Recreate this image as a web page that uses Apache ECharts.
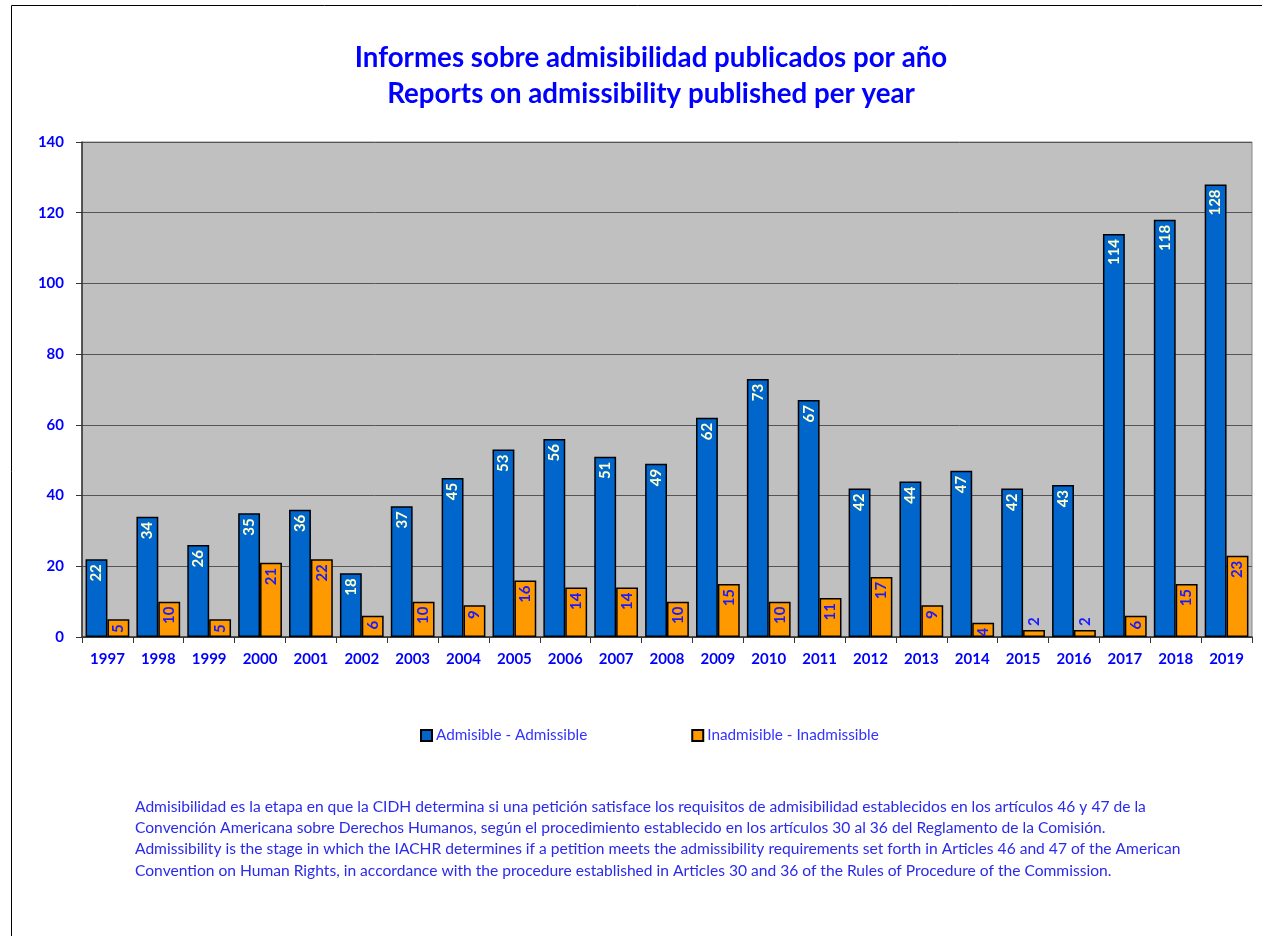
<!DOCTYPE html>
<html>
<head>
<meta charset="utf-8">
<script src="https://cdn.jsdelivr.net/npm/echarts@6/dist/echarts.min.js"></script>
<style>
  html, body { margin: 0; padding: 0; background: #fff; }
  #chart { width: 1262px; height: 936px; }
</style>
</head>
<body>
<div id="chart"></div>
<script>
var years = ['1997', '1998', '1999', '2000', '2001', '2002', '2003', '2004', '2005', '2006', '2007', '2008',
    '2009', '2010', '2011', '2012', '2013', '2014', '2015', '2016', '2017', '2018', '2019'];
var admisible = [22, 34, 26, 35, 36, 18, 37, 45, 53, 56, 51, 49, 62, 73, 67, 42, 44, 47, 42, 43, 114, 118, 128];
var inadmisible = [5, 10, 5, 21, 22, 6, 10, 9, 16, 14, 14, 10, 15, 10, 11, 17, 9, 4, 2, 2, 6, 15, 23];
var yTicks = [0, 20, 40, 60, 80, 100, 120, 140];

var font = 'Lato, "Open Sans", sans-serif';
var blue = '#0000ff';

var notes = [
    'Admisibilidad es la etapa en que la CIDH determina si una petición satisface los requisitos de admisibilidad establecidos en los artículos 46 y 47 de la',
    'Convención Americana sobre Derechos Humanos, según el procedimiento establecido en los artículos 30 al 36 del Reglamento de la Comisión.',
    'Admissibility is the stage in which the IACHR determines if a petition meets the admissibility requirements set forth in Articles 46 and 47 of the American',
    'Convention on Human Rights, in accordance with the procedure established in Articles 30 and 36 of the Rules of Procedure of the Commission.'
];

// etiqueta vertical dentro del extremo superior; fuera si no cabe
function barData(values, color) {
    return values.map(function (v) {
        var small = v <= 2;
        return {
            value: v,
            label: {
                show: true,
                position: small ? 'top' : 'insideTop',
                rotate: 90,
                align: small ? 'left' : 'right',
                verticalAlign: 'middle',
                distance: small ? 4 : 5,
                color: color,
                fontFamily: font,
                fontWeight: 'bold',
                fontSize: 15
            }
        };
    });
}

var chart = echarts.init(document.getElementById('chart'));

var option = {
    backgroundColor: '#ffffff',
    animation: false,
    title: {
        text: 'Informes sobre admisibilidad publicados por año\nReports on admissibility published per year',
        left: 646,
        textAlign: 'center',
        top: 35,
        textStyle: {
            color: blue,
            fontFamily: font,
            fontWeight: 'bold',
            fontSize: 27.7,
            lineHeight: 36
        }
    },
    legend: {
        top: 728,
        left: 420,
        padding: 0,
        itemGap: 104,
        itemWidth: 11,
        itemHeight: 11,
        icon: 'rect',
        textStyle: { color: '#3333ff', fontFamily: font, fontSize: 15.3, padding: [0, 0, 0, -1] },
        data: ['Admisible - Admissible', 'Inadmisible - Inadmissible']
    },
    grid: {
        left: 82,
        right: 10,
        top: 142,
        bottom: 299,
        show: true,
        backgroundColor: '#c0c0c0',
        borderColor: '#888888',
        borderWidth: 1
    },
    xAxis: {
        type: 'category',
        data: years,
        axisLine: { lineStyle: { color: '#333333', width: 1.5 } },
        axisTick: { show: true, alignWithLabel: false, length: 6, lineStyle: { color: '#333333' } },
        axisLabel: { color: blue, fontFamily: font, fontWeight: 'bold', fontSize: 15, margin: 15 }
    },
    yAxis: {
        type: 'value',
        min: 0,
        max: 140,
        interval: 20,
        axisLine: { show: true, lineStyle: { color: '#333333', width: 1.5 } },
        axisTick: { show: true, length: 6, lineStyle: { color: '#333333' } },
        axisLabel: {
            color: blue, fontFamily: font, fontWeight: 'bold', fontSize: 15, margin: 18,
            formatter: function (v) { return yTicks.indexOf(v) >= 0 ? String(v) : ''; }
        },
        splitLine: { lineStyle: { color: '#555555', width: 1 } }
    },
    series: [
        {
            name: 'Admisible - Admissible',
            type: 'bar',
            barGap: '0%',
            barCategoryGap: '14%',
            itemStyle: { color: '#0066cc', borderColor: '#000000', borderWidth: 1.5 },
            data: barData(admisible, '#ffffcc')
        },
        {
            name: 'Inadmisible - Inadmissible',
            type: 'bar',
            itemStyle: { color: '#ff9900', borderColor: '#000000', borderWidth: 1.5 },
            data: barData(inadmisible, '#1a1aff')
        }
    ],
    graphic: [
        {
            type: 'rect',
            shape: { x: 11.5, y: 5.5, width: 1262, height: 940 },
            style: { fill: 'none', stroke: '#000000', lineWidth: 1 },
            silent: true
        },
        {
            type: 'text',
            left: 135,
            top: 796,
            style: {
                text: notes.join('\n'),
                fill: '#2a2aee',
                font: '15.6px ' + font,
                lineHeight: 21.3
            }
        }
    ]
};

chart.setOption(option);
</script>
</body>
</html>
